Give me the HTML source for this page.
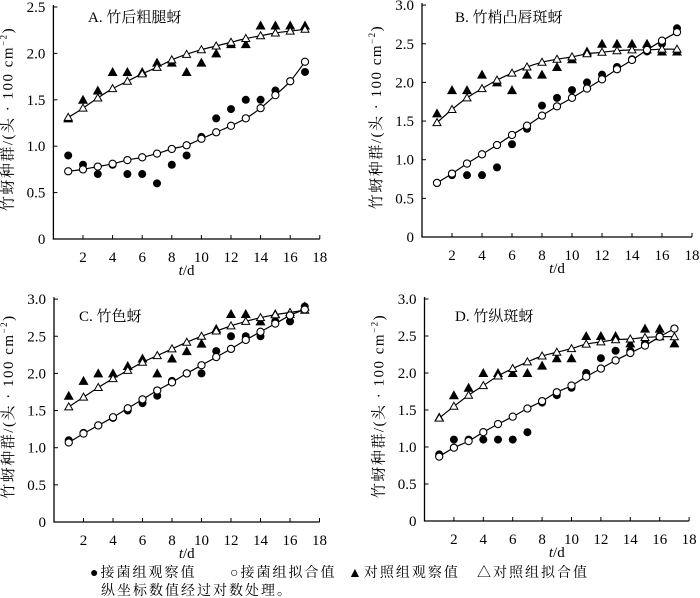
<!DOCTYPE html>
<html><head><meta charset="utf-8"><style>
html,body{margin:0;padding:0;background:#fff;}
svg{display:block;}
text{font-family:"Liberation Serif","Noto Serif CJK SC",serif;fill:#000;}
</style></head><body>
<svg id="s" width="700" height="598" xmlns="http://www.w3.org/2000/svg"></svg>
<script>
var P=[
{x0:53.4,xs:14.8,y0:239,ys:92.8,ym:2.5,title:"A. 竹后粗腿蚜",tx:88,ty:22,
c:[0.73,0.75,0.78,0.81,0.85,0.88,0.92,0.97,1.01,1.08,1.15,1.22,1.30,1.41,1.55,1.70,1.91],
d:[0.9,0.8,0.7,0.8,0.7,0.7,0.6,0.8,0.9,1.1,1.3,1.4,1.5,1.5,1.6,1.7,1.8],
tf:[1.31,1.41,1.52,1.62,1.70,1.78,1.85,1.93,1.99,2.04,2.08,2.12,2.16,2.19,2.22,2.24,2.26],
to:[1.3,1.5,1.6,1.8,1.8,1.8,1.9,1.9,1.8,1.9,2.0,2.1,2.1,2.3,2.3,2.3,2.3]},
{x0:422,xs:15,y0:237,ys:77.3,ym:3,title:"B. 竹梢凸唇斑蚜",tx:455,ty:22,
c:[0.70,0.82,0.95,1.07,1.19,1.32,1.44,1.57,1.69,1.80,1.92,2.04,2.17,2.29,2.42,2.54,2.65],
d:[0.7,0.8,0.8,0.8,0.9,1.2,1.4,1.7,1.8,1.9,2.0,2.1,2.2,2.3,2.4,2.5,2.7],
tf:[1.48,1.65,1.80,1.92,2.03,2.12,2.20,2.26,2.30,2.33,2.37,2.39,2.41,2.42,2.42,2.43,2.43],
to:[1.6,1.9,1.9,2.1,2.0,1.9,2.1,2.1,2.2,2.3,2.4,2.5,2.5,2.5,2.5,2.4,2.4]},
{x0:54,xs:14.75,y0:522,ys:74.3,ym:3,title:"C. 竹色蚜",tx:79,ty:321,
c:[1.07,1.19,1.30,1.41,1.53,1.65,1.77,1.88,2.00,2.11,2.22,2.33,2.45,2.56,2.67,2.78,2.86],
d:[1.1,1.2,1.3,1.4,1.5,1.6,1.7,1.9,2.0,2.0,2.3,2.5,2.5,2.5,2.7,2.7,2.9],
tf:[1.55,1.68,1.81,1.93,2.04,2.15,2.24,2.33,2.42,2.50,2.57,2.64,2.70,2.75,2.79,2.82,2.85],
to:[1.7,1.9,2.0,2.0,2.1,2.2,2.0,2.2,2.3,2.4,2.6,2.8,2.8,2.7,2.8,2.8,2.9]},
{x0:424.5,xs:14.7,y0:521,ys:74,ym:3,title:"D. 竹纵斑蚜",tx:455,ty:321,
c:[0.87,0.99,1.08,1.20,1.31,1.41,1.52,1.62,1.74,1.83,1.95,2.06,2.17,2.27,2.37,2.49,2.60],
d:[0.9,1.1,1.1,1.1,1.1,1.1,1.2,1.6,1.7,1.8,2.0,2.2,2.3,2.3,2.4,2.5,2.6],
tf:[1.39,1.55,1.70,1.83,1.96,2.06,2.15,2.23,2.28,2.33,2.39,2.42,2.45,2.46,2.48,2.49,2.49],
to:[1.4,1.7,1.8,2.0,2.0,2.0,2.0,2.1,2.2,2.2,2.5,2.5,2.5,2.4,2.6,2.6,2.4]}];
var h="";
P.forEach(function(p){
 var X=function(v){return p.x0+v*p.xs},Y=function(v){return p.y0-v*p.ys};
 var xe=X(18),yt=Y(p.ym);
 h+='<path d="M'+p.x0+' '+(yt-2)+'V'+p.y0+'H'+xe+'" stroke="#000" stroke-width="1.3" fill="none"/>';
 for(var v=0;v<=p.ym+1e-6;v+=0.5){var y=Y(v);h+='<line x1="'+p.x0+'" y1="'+y+'" x2="'+(p.x0+4)+'" y2="'+y+'" stroke="#000"/>';
  h+='<text x="'+(p.x0-8)+'" y="'+(y+5)+'" font-size="15" text-anchor="end">'+(v==0?"0":v.toFixed(1))+'</text>';}
 for(var t=2;t<=18;t+=2){var x=X(t);h+='<line x1="'+x+'" y1="'+p.y0+'" x2="'+x+'" y2="'+(p.y0-4)+'" stroke="#000"/>';
  h+='<text x="'+x+'" y="'+(p.y0+23)+'" font-size="15" text-anchor="middle">'+t+'</text>';}
 h+='<text x="'+X(9)+'" y="'+(p.y0+36)+'" font-size="15" text-anchor="middle"><tspan font-style="italic">t</tspan>/d</text>';
 var cy=(yt+p.y0)/2-4,cx=p.x0-41;
 h+='<text transform="translate('+cx+','+cy+') rotate(-90)" font-size="15" letter-spacing="1.5" text-anchor="middle">竹蚜种群/(头 · 100 cm<tspan dy="-6" font-size="9">−2</tspan><tspan dy="6">)</tspan></text>';
 h+='<text x="'+p.tx+'" y="'+p.ty+'" font-size="15">'+p.title+'</text>';
 function curve(a){var pts=a.map(function(v,i){return [X(i+1),Y(v)]});var s="M"+pts[0][0]+" "+pts[0][1];
  for(var i=0;i<pts.length-1;i++){var p0=pts[Math.max(0,i-1)],p1=pts[i],p2=pts[i+1],p3=pts[Math.min(pts.length-1,i+2)];
   s+="C"+(p1[0]+(p2[0]-p0[0])/6).toFixed(1)+" "+(p1[1]+(p2[1]-p0[1])/6).toFixed(1)+" "+(p2[0]-(p3[0]-p1[0])/6).toFixed(1)+" "+(p2[1]-(p3[1]-p1[1])/6).toFixed(1)+" "+p2[0].toFixed(1)+" "+p2[1].toFixed(1);}
  return '<path d="'+s+'" stroke="#000" stroke-width="1.2" fill="none"/>';}
 h+=curve(p.c)+curve(p.tf);
 p.to.forEach(function(v,i){var x=X(i+1),y=Y(v);h+='<polygon points="'+x+','+(y-5)+' '+(x-5)+','+(y+4)+' '+(x+5)+','+(y+4)+'" fill="#000"/>';});
 p.d.forEach(function(v,i){h+='<circle cx="'+X(i+1)+'" cy="'+Y(v)+'" r="4" fill="#000"/>';});
 p.tf.forEach(function(v,i){var x=X(i+1),y=Y(v);h+='<polygon points="'+x+','+(y-4)+' '+(x-4)+','+(y+3)+' '+(x+4)+','+(y+3)+'" fill="#fff" stroke="#000" stroke-width="1"/>';});
 p.c.forEach(function(v,i){h+='<circle cx="'+X(i+1)+'" cy="'+Y(v)+'" r="3.6" fill="#fff" stroke="#000" stroke-width="1.1"/>';});
});
h+='<text x="90" y="577" font-size="14" letter-spacing="2">●接菌组观察值</text>';
h+='<text x="230" y="577" font-size="14" letter-spacing="2">○接菌组拟合值</text>';
h+='<text x="348" y="577" font-size="14" letter-spacing="2">▲对照组观察值</text>';
h+='<text x="477" y="577" font-size="14" letter-spacing="2">△对照组拟合值</text>';
h+='<text x="101" y="595" font-size="14" letter-spacing="2">纵坐标数值经过对数处理。</text>';
document.getElementById("s").innerHTML=h;
</script>
</body></html>
